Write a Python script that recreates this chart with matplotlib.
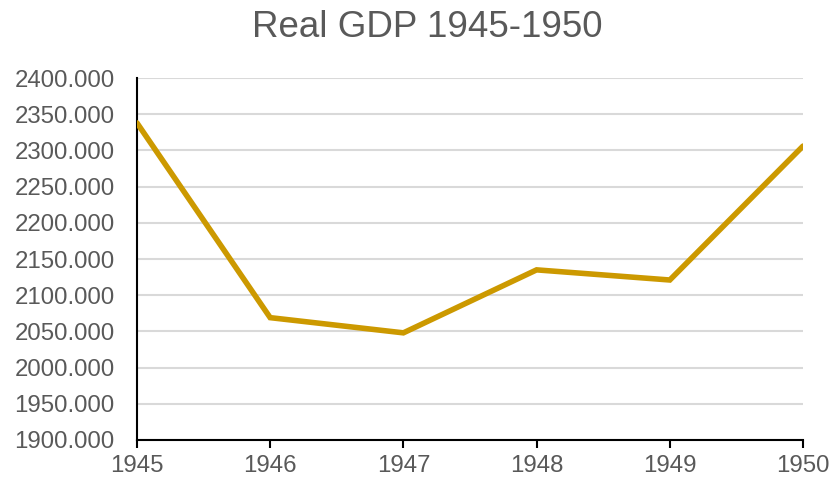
import matplotlib
matplotlib.use('Agg')
import matplotlib.pyplot as plt

# data
years = [1945, 1946, 1947, 1948, 1949, 1950]
real_gdp = [2338, 2069, 2048, 2135, 2121, 2306]
y_ticks = [1900, 1950, 2000, 2050, 2100, 2150, 2200, 2250, 2300, 2350, 2400]

plt.rcParams['font.family'] = ['Liberation Sans', 'DejaVu Sans']
txt_color = '#595959'

fig = plt.figure(figsize=(8.3, 4.78), dpi=100)
ax = fig.add_axes([0.165, 0.0795, 0.8025, 0.7573])

ax.plot(years, real_gdp, color='#CC9900', lw=4, solid_capstyle='round', solid_joinstyle='miter', zorder=3)

ax.set_xlim(years[0], years[-1])
ax.set_ylim(y_ticks[0], y_ticks[-1])
ax.set_xticks(years)
ax.set_yticks(y_ticks)
ax.set_yticklabels(['%.3f' % v for v in y_ticks])
ax.grid(axis='y', color='#D9D9D9', lw=1.5)
ax.set_axisbelow(True)

for s in ['top', 'right']:
    ax.spines[s].set_visible(False)
for s in ['left', 'bottom']:
    ax.spines[s].set_color('black')
    ax.spines[s].set_linewidth(1.5)

ax.tick_params(axis='y', length=0, labelsize=17.3, labelcolor=txt_color, pad=16)
ax.tick_params(axis='x', length=6, width=1.5, color='black', labelsize=17.3, labelcolor=txt_color, pad=5)

fig.text(0.515, 0.942, 'Real GDP 1945-1950', ha='center', va='center', fontsize=26.5, color=txt_color)

fig.savefig('out.png', dpi=100)
